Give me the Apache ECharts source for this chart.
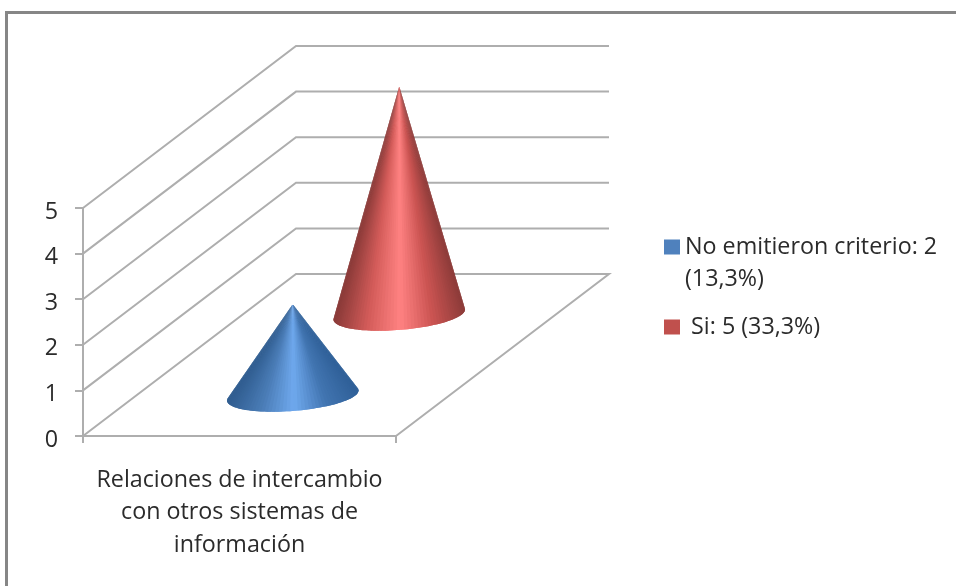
<!DOCTYPE html>
<html>
<head>
<meta charset="utf-8">
<style>
  html, body { margin: 0; padding: 0; background: #fff; }
  #frame { position: absolute; left: 5px; top: 11px; width: 951px; height: 575px; border-left: 3px solid #868686; border-top: 3px solid #868686; box-sizing: border-box; }
  #chart { position: absolute; left: 0; top: 0; width: 956px; height: 586px; filter: blur(0.45px); }
</style>
</head>
<body>
<div id="frame"></div>
<div id="chart"></div>
<script src="https://cdn.jsdelivr.net/npm/echarts@6/dist/echarts.min.js"></script>
<script>
const categories = ['Relaciones de intercambio\ncon otros sistemas de\ninformación']
const seriesNames = ['No emitieron criterio: 2\n(13,3%)', ' Si: 5 (33,3%)']
const seriesValues = [2, 5]
const yTicks = [0, 1, 2, 3, 4, 5]

const legendColors = ['#4f81bd', '#c0504d']
// shading across the cone, left edge to right edge
const coneRamps = [
  ['#2f6098', '#4275b1', '#6fa9ee', '#4a7cb6', '#305d90'],
  ['#8c3b39', '#cb5452', '#ff8282', '#d45c5a', '#8a3a38']
]

const DEPTH_X = 213
const DEPTH_Y = 162
const LINE = '#aeaeae'
const TEXT = '#2b2b2b'
const FONT = '"Open Sans", sans-serif'

const hex = (c) => [1, 3, 5].map((i) => parseInt(c.slice(i, i + 2), 16))
const shade = (ramp, s) => {
  const p = Math.min(s, 0.9999) * (ramp.length - 1)
  const i = Math.floor(p)
  const a = hex(ramp[i])
  const b = hex(ramp[i + 1])
  return 'rgb(' + a.map((v, k) => Math.round(v + (b[k] - v) * (p - i))).join(',') + ')'
}

const renderWalls = (params, api) => {
  const v = api.value(1)
  const p = api.coord([0, v])
  const w = api.size([1, 0])[0]
  const x0 = p[0] - w / 2
  const y0 = p[1]
  const points = [[x0, y0], [x0 + DEPTH_X, y0 - DEPTH_Y], [x0 + w + DEPTH_X, y0 - DEPTH_Y]]
  if (v === 0) points.push([x0 + w, y0])
  return {
    type: 'polyline',
    shape: { points },
    style: { stroke: LINE, lineWidth: 2, fill: null }
  }
}

const renderCone = (idx) => (params, api) => {
  const base = api.coord([api.value(0), 0])
  const top = api.coord([api.value(0), api.value(1)])
  const d = (idx + 0.5) / seriesValues.length
  const cx = base[0] + DEPTH_X * d
  const cy = base[1] - DEPTH_Y * d
  const apex = [cx, top[1] - DEPTH_Y * d]
  const rx = 66
  const ry = 15.4
  const tilt = -4.6 * Math.PI / 180
  const h = cy - apex[1]
  const a = Math.asin(ry / h)
  const n = 60
  const rim = (t) => [
    cx + rx * Math.cos(t) * Math.cos(tilt) - ry * Math.sin(t) * Math.sin(tilt),
    cy + rx * Math.cos(t) * Math.sin(tilt) + ry * Math.sin(t) * Math.cos(tilt)
  ]
  const step = (Math.PI + 2 * a) / n
  const children = []
  for (let i = 0; i < n; i++) {
    const t0 = Math.PI + a - step * i
    const t1 = t0 - step
    const s = Math.min(1, Math.max(0, (1 - Math.cos(t0 - step / 2)) / 2))
    // every slice reaches under the next one so no seams show
    const end = i < n - 1 ? t1 - step : t1
    const arc = [rim(t0), rim(t1), rim(end)]
    children.push({
      type: 'polygon',
      shape: { points: [apex].concat(arc) },
      style: { fill: shade(coneRamps[idx], s) }
    })
  }
  return { type: 'group', children }
}

const chart = echarts.init(document.getElementById('chart'))
chart.setOption({
  animation: false,
  grid: { left: 83, top: 208, width: 313, height: 228 },
  xAxis: {
    type: 'category',
    data: categories,
    axisLine: { lineStyle: { color: LINE, width: 2 } },
    axisTick: { show: true, length: 7, lineStyle: { color: LINE, width: 2 } },
    axisLabel: { color: TEXT, fontFamily: FONT, fontSize: 23.3, lineHeight: 32.5, margin: 28 }
  },
  yAxis: {
    type: 'value',
    min: 0,
    max: 5,
    interval: 1,
    splitLine: { show: false },
    axisLine: { show: true, lineStyle: { color: LINE, width: 2 } },
    axisTick: { show: true, length: 8, lineStyle: { color: LINE, width: 2 } },
    // digits sit a little under their ticks
    axisLabel: { color: TEXT, fontFamily: FONT, fontSize: 23.3, margin: 25, verticalAlign: 'top', lineHeight: 8 }
  },
  legend: {
    orient: 'vertical',
    left: 664,
    top: 199,
    padding: 0,
    itemWidth: 16,
    itemHeight: 15,
    itemGap: 16,
    icon: 'rect',
    selectedMode: false,
    // the blank first line keeps the swatch level with the first text line
    formatter: (name) => name.indexOf('\n') >= 0 ? '\n' + name : name,
    textStyle: { color: TEXT, fontFamily: FONT, fontSize: 23.3, lineHeight: 32 },
    data: seriesNames
  },
  series: [
    {
      type: 'custom',
      name: 'walls',
      z: 1,
      silent: true,
      clip: false,
      renderItem: renderWalls,
      encode: { x: 0, y: 1 },
      data: yTicks.map((v) => [0, v])
    },
    {
      type: 'custom',
      name: seriesNames[1],
      z: 2,
      clip: false,
      itemStyle: { color: legendColors[1] },
      renderItem: renderCone(1),
      encode: { x: 0, y: 1 },
      data: [[0, seriesValues[1]]]
    },
    {
      type: 'custom',
      name: seriesNames[0],
      z: 3,
      clip: false,
      itemStyle: { color: legendColors[0] },
      renderItem: renderCone(0),
      encode: { x: 0, y: 1 },
      data: [[0, seriesValues[0]]]
    }
  ]
})
</script>
</body>
</html>
